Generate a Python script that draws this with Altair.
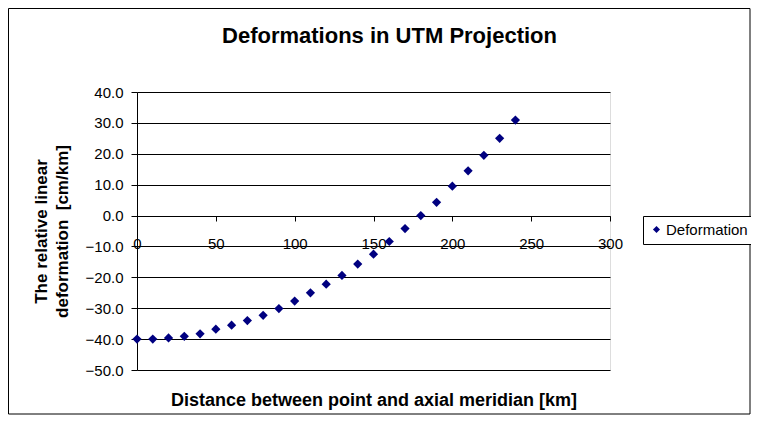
import altair as alt
import pandas as pd

distance_km = [0, 10, 20, 30, 40, 50, 60, 70, 80, 90, 100, 110, 120,
               130, 140, 150, 160, 170, 180, 190, 200, 210, 220, 230, 240]
deformation = [-40.0, -40.0, -39.6, -39.1, -38.3, -36.8, -35.5, -34.0, -32.3,
               -30.1, -27.7, -25.0, -22.2, -19.4, -15.7, -12.5, -8.4, -4.2,
               0.0, 4.3, 9.5, 14.5, 19.5, 25.0, 30.9]
series_name = "Deformation"

df = pd.DataFrame({"x": distance_km, "y": deformation, "s": series_name})

W, H = 473, 278
FONT = "Liberation Sans"

points = alt.Chart(df).mark_point(shape="diamond", filled=True, size=85, opacity=1).encode(
    x=alt.X("x:Q", scale=alt.Scale(domain=[0, 300], nice=False),
            axis=alt.Axis(values=[0, 50, 100, 150, 200, 250, 300], grid=False,
                          offset=-154, tickSize=5, tickColor="black", domainColor="black",
                          labelPadding=15, labelFontSize=15, labelFont=FONT, labelColor="black",
                          title="Distance between point and axial meridian [km]",
                          titleFont=FONT, titleFontSize=18, titleFontWeight="bold",
                          titleColor="black", titleY=189, titleBaseline="alphabetic",
                          labelFlush=False)),
    y=alt.Y("y:Q", scale=alt.Scale(domain=[-50, 40], nice=False),
            axis=alt.Axis(values=list(range(-50, 41, 10)), format=".1f", grid=True,
                          gridColor="black", gridWidth=1, tickSize=6, tickColor="black",
                          domainColor="black", labelPadding=8, labelFontSize=15,
                          labelFont=FONT, labelColor="black",
                          title=["The relative linear", "deformation \u00a0[cm/km]"],
                          titleFont=FONT, titleFontSize=17, titleFontWeight="bold",
                          titleColor="black", titleAngle=270, titleX=-96, titleY=139,
                          titleAlign="center", titleBaseline="middle", titleLineHeight=21,
                          labelFlush=False)),
    color=alt.Color("s:N", scale=alt.Scale(range=["#000080"]),
                    legend=alt.Legend(title=None, orient="none", legendX=506, legendY=124,
                                      fillColor="white", strokeColor="black",
                                      padding=6, labelFontSize=15, labelFont=FONT,
                                      labelColor="black", symbolType="diamond",
                                      symbolSize=50, labelOffset=2)),
)

border = alt.Chart(pd.DataFrame({"a": [0]})).mark_rect(
    fill=None, stroke="black", strokeWidth=1
).encode(x=alt.value(-128.5), x2=alt.value(613), y=alt.value(-83.5), y2=alt.value(322))

chart = alt.layer(border, points).properties(
    width=W, height=H,
    title=alt.TitleParams("Deformations in UTM Projection", font=FONT, fontSize=22,
                          fontWeight="bold", color="black", dx=16, offset=-40),
    autosize=alt.AutoSizeParams(type="none"),
    padding={"left": 129, "top": 84, "right": 141, "bottom": 45},
).configure_view(fill="#c0c0c0", stroke="#808080", strokeWidth=1).configure(background="white")

chart.save("out.html", embed_options={"renderer": "svg", "actions": False})
